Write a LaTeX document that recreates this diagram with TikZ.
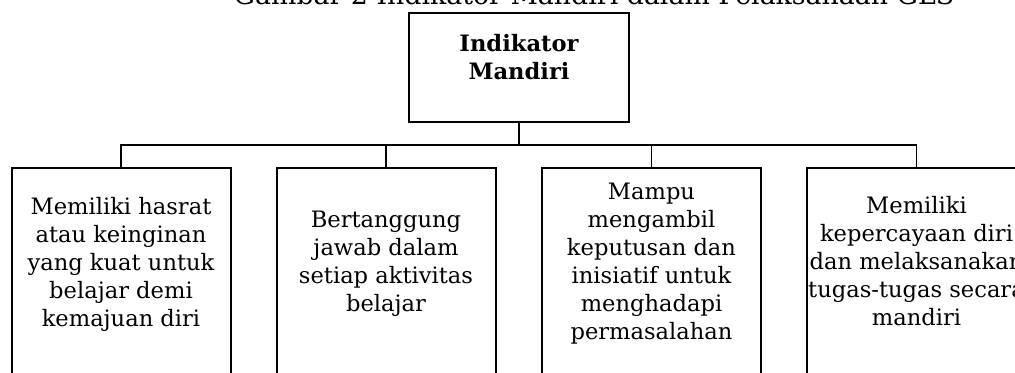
\documentclass[tikz,border=0pt]{standalone}
\usepackage{fontspec}
\setmainfont{DejaVu Serif}
\tikzset{
    every node/.style={inner sep=0pt},
    head/.style={draw, line width=1pt, minimum width=110pt, minimum height=54.5pt},
    leaf/.style={draw, line width=1pt, minimum width=109.5pt, minimum height=116pt},
    txt/.style={align=center, font=\fontsize{11.3}{14}\selectfont},
    headtxt/.style={align=center, font=\fontsize{11.3}{14}\selectfont\bfseries},
    conn/.style={line width=0.65pt}
}

\begin{document}
\begin{tikzpicture}[x=0.5pt,y=-0.5pt]
\useasboundingbox (0,0) rectangle (1015,372);
\clip (0,0) rectangle (1015,372);

\node[anchor=base, font=\fontsize{13.4}{16}\selectfont] (title) at (594,4) {Gambar 2 Indikator Mandiri dalam Pelaksanaan GLS};

\node[head] (top) at (519,67.5) {};
\node[headtxt] (toptxt) at (519,57.5) {Indikator\\Mandiri};

\node[leaf] (b1) at (121,284) {};
\node[leaf] (b2) at (386,284) {};
\node[leaf] (b3) at (651.5,284) {};
\node[leaf] (b4) at (916.5,284) {};

\node[txt] (t1) at (121,264) {Memiliki hasrat\\atau keinginan\\yang kuat untuk\\belajar demi\\kemajuan diri};
\node[txt] (t2) at (386,264) {Bertanggung\\jawab dalam\\setiap aktivitas\\belajar};
\node[txt] (t3) at (651.5,263.5) {Mampu\\mengambil\\keputusan dan\\inisiatif untuk\\menghadapi\\permasalahan};
\node[txt] (t4) at (916.5,261.5) {Memiliki\\kepercayaan diri\\dan melaksanakan\\tugas-tugas secara\\mandiri};

\coordinate (bar) at (519,145);
\draw[conn] (top.south) -- (bar);
\draw[conn] (bar) -| (b1.north);
\draw[conn] (bar) -| (b2.north);
\draw[conn] (bar) -| (b3.north);
\draw[conn] (bar) -| (b4.north);
\end{tikzpicture}
\end{document}
